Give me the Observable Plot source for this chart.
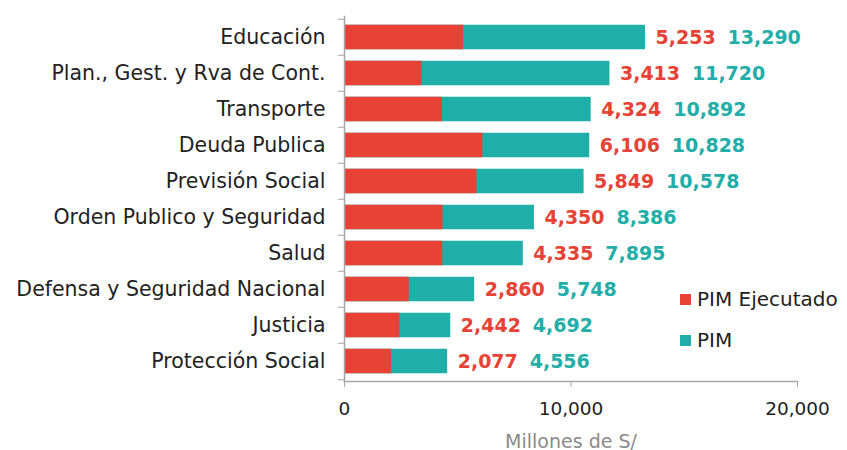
<!DOCTYPE html>
<html>
<head>
<meta charset="utf-8">
<script src="https://cdn.jsdelivr.net/npm/d3@7"></script>
<script src="https://cdn.jsdelivr.net/npm/@observablehq/plot@0.6"></script>
<style>
  body { margin: 0; background: #fff; font-family: "DejaVu Sans", sans-serif; }
  #wrap { position: relative; width: 847px; height: 450px; overflow: hidden; }
  .legend { position: absolute; left: 680px; font-size: 20px; color: #222; display: flex; align-items: center; line-height: 22px; }
  .legend span.sw { width: 11px; height: 11px; display: inline-block; margin-right: 6px; }
</style>
</head>
<body>
<div id="wrap"></div>
<script>
const categories = ["Educación", "Plan., Gest. y Rva de Cont.", "Transporte", "Deuda Publica", "Previsión Social", "Orden Publico y Seguridad", "Salud", "Defensa y Seguridad Nacional", "Justicia", "Protección Social"];
const pim = [13290, 11720, 10892, 10828, 10578, 8386, 7895, 5748, 4692, 4556];
const ejecutado = [5253, 3413, 4324, 6106, 5849, 4350, 4335, 2860, 2442, 2077];
const xTicks = [0, 10000, 20000];
const seriesNames = ["PIM Ejecutado", "PIM"];

const RED = "#E74235";
const TEAL = "#1FAEA8";
const GREY = "#A6A6A6";

const data = categories.map((c, i) => ({cat: c, pim: pim[i], ej: ejecutado[i]}));
const fmt = d3.format(",");

const W = 847, H = 450, mT = 16, mB = 69, mL = 344, mR = 50;
const step = (H - mT - mB) / categories.length;
const inset = (step - 25) / 2;

const chart = Plot.plot({
  width: W, height: H,
  marginTop: mT, marginBottom: mB, marginLeft: mL, marginRight: mR,
  style: {fontFamily: "'DejaVu Sans', sans-serif", background: "white", overflow: "visible"},
  x: {domain: [0, 20000]},
  y: {domain: categories, padding: 0},
  marks: [
    Plot.barX(data, {y: "cat", x: "pim", fill: TEAL, insetTop: inset, insetBottom: inset}),
    Plot.barX(data, {y: "cat", x: "ej", fill: RED, insetTop: inset, insetBottom: inset}),
    Plot.text(data, {y: "cat", x: "pim", text: d => fmt(d.ej), dx: 10, textAnchor: "start", fill: RED, fontSize: 19, fontWeight: "bold"}),
    Plot.text(data, {y: "cat", x: "pim", text: d => fmt(d.pim), dx: 82, textAnchor: "start", fill: TEAL, fontSize: 19, fontWeight: "bold"}),
    Plot.frame({anchor: "left", stroke: GREY, strokeWidth: 1.5}),
    Plot.frame({anchor: "bottom", stroke: GREY, strokeWidth: 1.5}),
    Plot.axisY({tickSize: 0, tickPadding: 19, fontSize: 20.5, fill: "#222", label: null}),
    Plot.axisY({tickSize: 6, text: null, dy: -step / 2, stroke: GREY, label: null}),
    Plot.axisY({ticks: [categories[categories.length - 1]], tickSize: 6, text: null, dy: step / 2, stroke: GREY, label: null}),
    Plot.axisX({ticks: xTicks, tickFormat: fmt, tickSize: 6, stroke: GREY, tickPadding: 14, fontSize: 18.5, fill: "#222", label: null}),
    Plot.axisX({ticks: [], tickSize: 0, fill: "#8a8a8a", fontSize: 19, label: "Millones de S/", labelAnchor: "center", labelArrow: "none", labelOffset: 66})
  ]
});
document.getElementById("wrap").appendChild(chart);

// legend
const wrap = document.getElementById("wrap");
[[seriesNames[0], RED, 288], [seriesNames[1], TEAL, 329]].forEach(([name, col, top]) => {
  const d = document.createElement("div");
  d.className = "legend";
  d.style.top = top + "px";
  d.innerHTML = `<span class="sw" style="background:${col}"></span>${name}`;
  wrap.appendChild(d);
});
</script>
</body>
</html>
